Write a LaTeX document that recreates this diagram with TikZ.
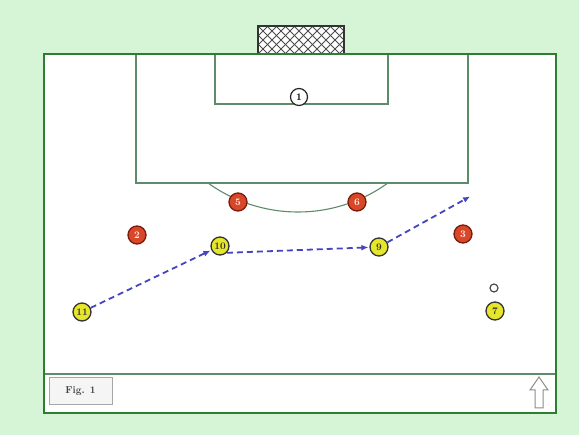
\documentclass[tikz,border=0pt]{standalone}
\usetikzlibrary{arrows.meta}
\definecolor{bg}{HTML}{D6F5D6}
\definecolor{border}{HTML}{2E7D32}
\definecolor{fline}{HTML}{5E8C6A}
\definecolor{redp}{HTML}{D8472A}
\definecolor{redd}{HTML}{7A1A0A}
\definecolor{yelp}{HTML}{E6E62A}
\definecolor{runc}{HTML}{4545C0}
\tikzset{
  redpl/.style={circle, draw=redd, line width=1.3pt, fill=redp, inner sep=0pt, minimum size=18pt, text=white!85!orange, font=\bfseries\fontsize{10}{10}\selectfont},
  yelpl/.style={circle, draw=black!80, line width=1.3pt, fill=yelp, inner sep=0pt, minimum size=18pt, text=black!80, font=\bfseries\fontsize{10}{10}\selectfont},
  keeper/.style={circle, draw=black!85, line width=1.2pt, fill=white, inner sep=0pt, minimum size=17pt, font=\bfseries\fontsize{10}{10}\selectfont},
  run/.style={draw=runc, line width=1.8pt, dash pattern=on 6pt off 4pt, -{Latex[length=7pt,width=6pt]}, shorten >=1pt},
  fieldline/.style={draw=fline, line width=1.1pt},
}
\begin{document}
\begin{tikzpicture}[x=1pt,y=-1pt]
\useasboundingbox (0,0) rectangle (579,435);
\fill[bg] (0,0) rectangle (579,435);
% field
\fill[white] (44,54) rectangle (556,413);
% goal net
\begin{scope}
\clip (258,26) rectangle (344,54);
\fill[white] (258,26) rectangle (344,54);
\foreach \i in {0,9,...,130}{
  \draw[black!70, line width=0.9pt] (240+\i,26) -- ++(28,28);
  \draw[black!70, line width=0.9pt] (240+\i,54) -- ++(28,-28);
}
\end{scope}
\draw[black!80, line width=1.2pt] (258,54) -- (258,26) -- (344,26) -- (344,54);
% penalty area, goal area
\draw[fieldline] (136,54) -- (136,183) -- (468,183) -- (468,54);
\draw[fieldline] (215,54) -- (215,104) -- (388,104) -- (388,54);
\draw[fieldline] (208,183) arc[start angle=125.75, end angle=54.25, radius=154];
% bottom strip
\draw[fline, line width=1.2pt] (44,374) -- (556,374);
\node[draw=black!35, line width=1pt, fill=white!96!black, minimum width=63pt, minimum height=27pt, inner sep=0pt, font=\bfseries\fontsize{10}{10}\selectfont, text=black!75] (fig) at (80.5,391.5) {Fig. 1};
\draw[black!45, line width=1pt, fill=white] (535,408) -- (535,390) -- (530,390) -- (539,377) -- (548,390) -- (543,390) -- (543,408) -- cycle;
% outer border
\draw[border, line width=2.6pt] (44,54) rectangle (556,413);
% players
\node[keeper] (p1) at (299,97) {1};
\node[redpl] (p5) at (238,202) {5};
\node[redpl] (p6) at (357,202) {6};
\node[redpl] (p2) at (137,235) {2};
\node[redpl] (p3) at (463,234) {3};
\node[yelpl] (p10) at (220,246) {10};
\node[yelpl] (p9) at (379,247) {9};
\node[yelpl] (p11) at (82,312) {11};
\node[yelpl] (p7) at (495,311) {7};
\node[circle, draw=black!70, line width=1.2pt, fill=white, minimum size=8pt, inner sep=0pt] (ball) at (494,288) {};
\coordinate (t) at (471,196);
% runs
\draw[run] (p11) -- (p10);
\draw[run] (p10.south east) -- (p9);
\draw[run] (p9) -- (t);
\end{tikzpicture}
\end{document}
